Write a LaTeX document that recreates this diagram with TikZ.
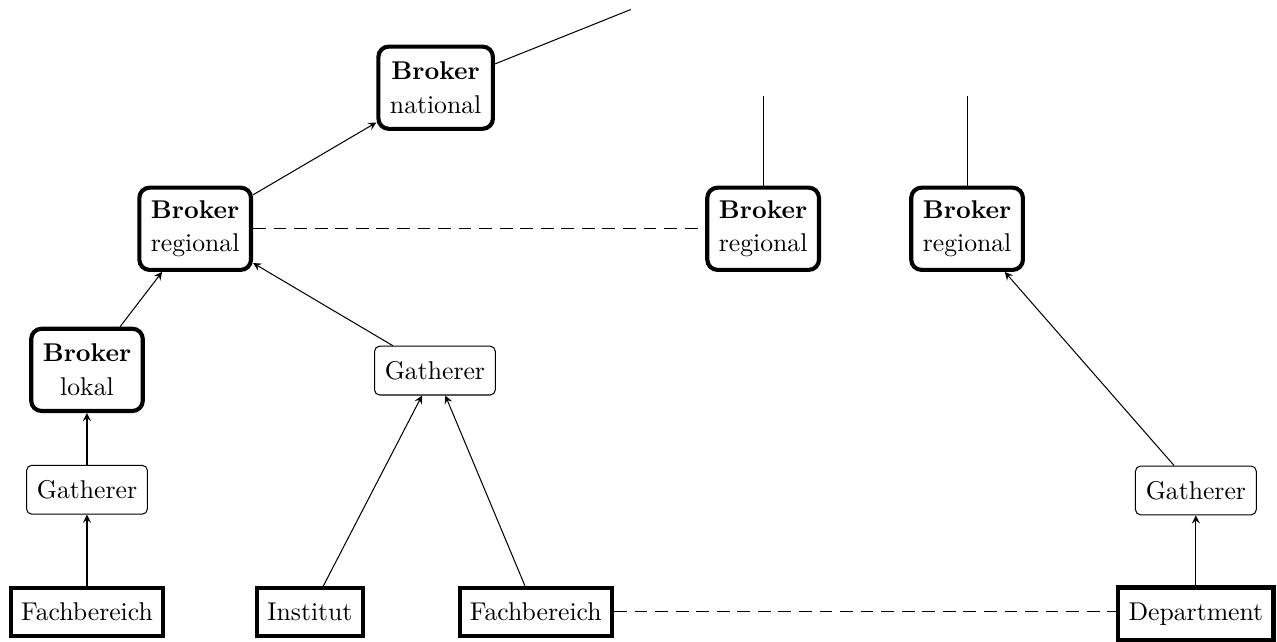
\documentclass[tikz,border=0pt]{standalone}
\usepackage{tikz}
\usepackage{amsmath}
\usepackage{amssymb}
\tikzset{
 broker/.style={draw,ultra thick,rounded corners=4pt,align=center,inner xsep=4.5pt,minimum height=32pt},
 gatherer/.style={draw,thin,rounded corners=2pt,inner xsep=4pt,minimum height=19pt},
 quelle/.style={draw,ultra thick,inner xsep=4pt,minimum height=18.5pt},
 verbindung/.style={dash pattern=on 5pt off 3pt}
}
\begin{document}
\begin{tikzpicture}
 \useasboundingbox (0,0) rectangle (17.47,8.78); %Rahmen
 \node[broker] (BN) at (5.96,7.58) {\textbf{Broker}\\[1pt]national}; %national
 \node[broker] (BRL) at (2.67,5.65) {\textbf{Broker}\\[1pt]regional}; %regional links
 \node[broker] (BRM) at (10.44,5.65) {\textbf{Broker}\\[1pt]regional}; %regional Mitte
 \node[broker] (BRR) at (13.23,5.65) {\textbf{Broker}\\[1pt]regional}; %regional rechts
 \node[broker] (BL) at (1.19,3.72) {\textbf{Broker}\\[1pt]lokal}; %lokal
 \node[gatherer] (GM) at (5.95,3.71) {Gatherer}; %Gatherer Mitte
 \node[gatherer] (GL) at (1.19,2.08) {Gatherer}; %Gatherer links
 \node[gatherer] (GR) at (16.36,2.07) {Gatherer}; %Gatherer rechts
 \node[quelle] (FL) at (1.19,0.41) {Fachbereich}; %Fachbereich links
 \node[quelle] (IN) at (4.24,0.41) {Institut}; %Institut
 \node[quelle] (FM) at (7.33,0.41) {Fachbereich}; %Fachbereich Mitte
 \node[quelle,minimum height=20.6pt] (DE) at (16.36,0.38) {Department}; %Department
 \coordinate (BNO) at (8.63,8.65); %nach oben
 \coordinate (BRMO) at (10.44,7.47); %nach oben
 \coordinate (BRRO) at (13.23,7.47); %nach oben
 \draw (BN)--(BNO);
 \draw (BRM)--(BRMO);
 \draw (BRR)--(BRRO);
 \draw[->,>=stealth] (BRL)--(BN);
 \draw[->,>=stealth] (BL)--(BRL);
 \draw[->,>=stealth] (GM)--(BRL);
 \draw[->,>=stealth] (GL)--(BL);
 \draw[->,>=stealth] (FL)--(GL);
 \draw[->,>=stealth] (IN)--(GM);
 \draw[->,>=stealth] (FM)--(GM);
 \draw[->,>=stealth] (DE)--(GR);
 \draw[->,>=stealth] (GR)--(BRR);
 \draw[verbindung] (BRL)--(BRM); %gestrichelt
 \draw[verbindung] (FM)--(DE.west |- FM); %gestrichelt
\end{tikzpicture}
\end{document}
